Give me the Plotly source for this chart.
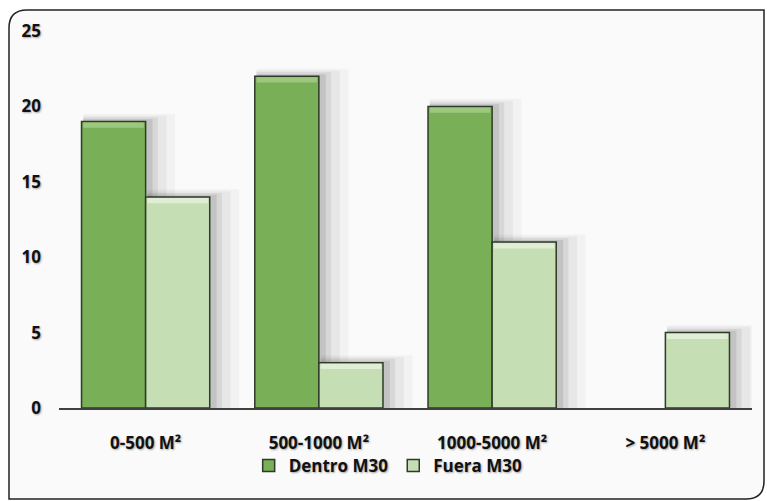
import plotly.graph_objects as go

# Número de locales por tramo de superficie
categorias = ["0-500 M²", "500-1000 M²", "1000-5000 M²", "> 5000 M²"]
dentro_m30 = [19, 22, 20, 0]
fuera_m30 = [14, 3, 11, 5]
serie_nombres = ["Dentro M30", "Fuera M30"]
y_ticks = [0, 5, 10, 15, 20, 25]

color_dentro = "#78AF57"
color_fuera = "#C5DEB4"
brillo_dentro = "#9CC77F"
brillo_fuera = "#E0EED6"
borde = "#2F3A28"
fuente = "Open Sans"
sombra_texto = "1px 1px 2px rgba(0,0,0,0.35)"

W, H = 767, 501
ML, MR, MT, MB = 59, 15, 31, 93

bar_w = 0.37

fig = go.Figure()

# Sombras difusas detrás de cada barra (varias capas semitransparentes)
for valores, off in ((dentro_m30, -bar_w), (fuera_m30, 0.0)):
    for i, (extra, alpha) in enumerate(((0.16, 0.04), (0.11, 0.06), (0.06, 0.09), (0.03, 0.12))):
        fig.add_trace(go.Bar(
            x=categorias, y=[v + 0.5 - i * 0.12 if v > 0 else 0 for v in valores],
            width=bar_w + extra, offset=off + 0.01,
            marker=dict(color=f"rgba(60,60,60,{alpha})", line=dict(width=0)),
            showlegend=False, hoverinfo="skip",
        ))

for nombre, valores, color, brillo, off in (
    (serie_nombres[0], dentro_m30, color_dentro, brillo_dentro, -bar_w),
    (serie_nombres[1], fuera_m30, color_fuera, brillo_fuera, 0.0),
):
    fig.add_trace(go.Bar(
        x=categorias, y=valores, name=nombre,
        width=bar_w, offset=off,
        marker=dict(color=color,
                    line=dict(color=borde, width=[1.5 if v > 0 else 0 for v in valores])),
    ))
    # franja clara en la parte superior de cada barra (efecto biselado)
    fig.add_trace(go.Bar(
        x=categorias, y=[0.35 if v > 0 else 0 for v in valores],
        base=[v - 0.42 for v in valores],
        width=bar_w - 0.02, offset=off + 0.01,
        marker=dict(color=brillo, line=dict(width=0)),
        showlegend=False, hoverinfo="skip",
    ))

texto = dict(family=fuente, size=17, color="#111111", weight="bold", shadow=sombra_texto)

fig.update_layout(
    width=W, height=H,
    margin=dict(l=ML, r=MR, t=MT, b=MB, autoexpand=False),
    barmode="overlay",
    paper_bgcolor="#FFFFFF",
    plot_bgcolor="rgba(0,0,0,0)",
    font=texto,
    showlegend=True,
    legend=dict(
        orientation="h", x=0.475, xanchor="center", y=-0.154, yanchor="middle",
        font=texto,
        bgcolor="rgba(0,0,0,0)",
        traceorder="normal", itemwidth=30,
    ),
    xaxis=dict(
        range=[-0.5, len(categorias) - 0.5],
        showgrid=False, showline=True, linecolor="#404040", linewidth=2,
        ticks="", tickfont=texto,
        ticklabelstandoff=19, automargin=False,
    ),
    yaxis=dict(
        range=[0, 25], tickvals=y_ticks, showgrid=False, zeroline=False,
        showline=False, ticks="", tickfont=texto,
        ticklabelstandoff=17, automargin=False,
    ),
)

# Marco redondeado del gráfico, en coordenadas de papel
pw, ph = W - ML - MR, H - MT - MB


def px(x):
    return (x - ML) / pw


def py(y):
    return (H - MB - y) / ph


x0, x1, y0, y1, r = 9, 764, 10, 499, 18
path = (
    f"M {px(x0 + r)},{py(y0)} L {px(x1)},{py(y0)} L {px(x1)},{py(y1 - r)} "
    f"Q {px(x1)},{py(y1)} {px(x1 - r)},{py(y1)} L {px(x0)},{py(y1)} "
    f"L {px(x0)},{py(y0 + r)} Q {px(x0)},{py(y0)} {px(x0 + r)},{py(y0)} Z"
)
fig.add_shape(type="path", xref="paper", yref="paper", path=path,
              line=dict(color="#222222", width=1.5), layer="below",
              fillcolor="#FAFAFA")

fig.write_html("out.html")
